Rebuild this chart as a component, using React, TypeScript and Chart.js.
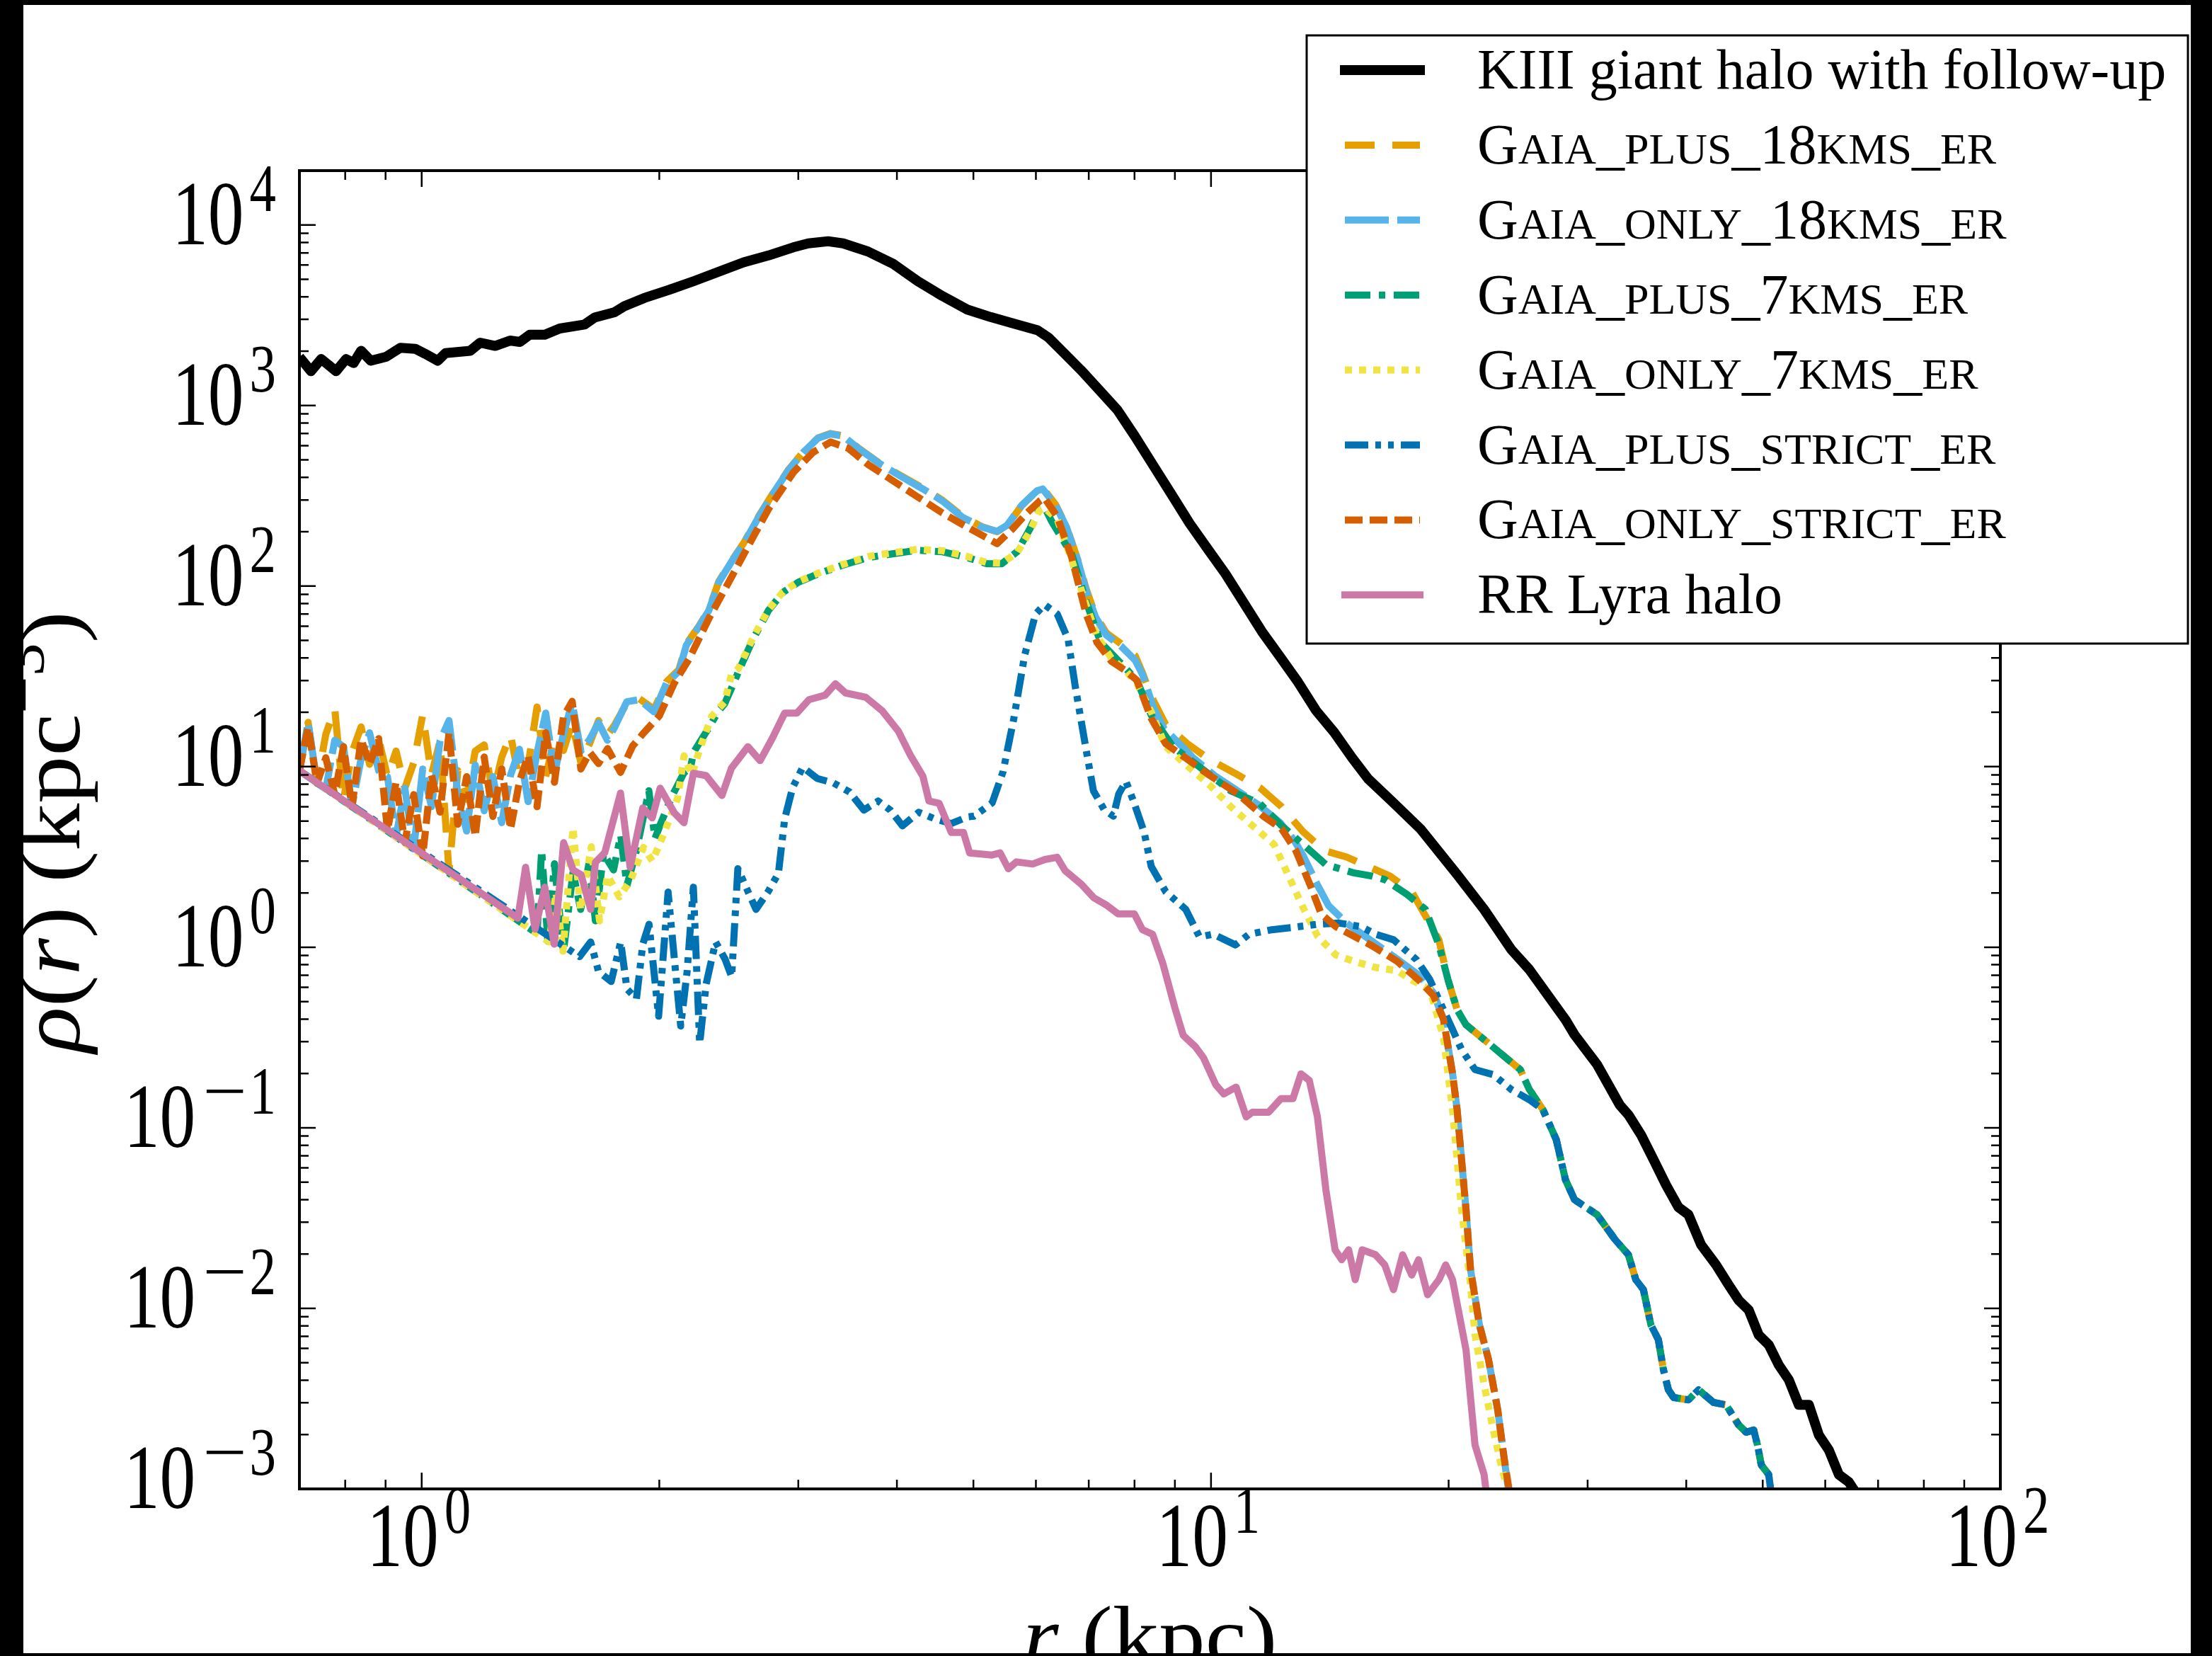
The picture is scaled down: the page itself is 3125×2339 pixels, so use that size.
import React, { useEffect, useRef } from 'react';
import { Chart, registerables } from 'chart.js';

Chart.register(...registerables);

// ---------------- data (r in kpc, rho in kpc^-3) ----------------
const kiiiR = [0.700, 0.724, 0.746, 0.779, 0.802, 0.820, 0.838, 0.862, 0.901, 0.940, 0.982, 1.011, 1.048, 1.072, 1.152, 1.186, 1.239, 1.294, 1.332, 1.371, 1.432, 1.496, 1.608, 1.656, 1.755, 1.806, 1.914, 2.058, 2.213, 2.379, 2.558, 2.750, 2.957, 3.089, 3.273, 3.419, 3.676, 3.952, 4.249, 4.569, 4.912, 5.258, 5.602, 6.031, 6.224, 6.492, 6.844, 7.216, 7.606, 8.018, 8.452, 8.911, 9.392, 9.900, 10.43, 11.00, 11.60, 12.23, 12.89, 13.58, 14.32, 15.09, 15.80, 17.03, 18.45, 20.50, 22.18, 24.01, 25.31, 28.12, 28.87, 30.84, 32.94, 33.79, 35.05, 36.36, 37.70, 39.10, 40.26, 41.77, 43.64, 45.26, 46.61, 47.99, 49.41, 50.88, 52.39, 53.95, 55.55, 57.20, 58.89, 60.64, 62.44, 64.29, 65.72];
const kiiiRho = [1860, 1550, 1810, 1550, 1810, 1720, 2010, 1770, 1860, 2090, 2060, 1930, 1770, 1950, 2010, 2230, 2140, 2290, 2250, 2470, 2470, 2670, 2810, 3070, 3290, 3550, 3940, 4370, 4890, 5510, 6210, 6780, 7520, 7910, 8130, 7910, 7130, 6110, 4890, 4040, 3400, 3090, 2860, 2610, 2380, 1980, 1570, 1220, 948, 671, 465, 322, 223, 161, 117, 81, 56, 40.6, 29.4, 20.5, 15.5, 11.2, 8.6, 6.3, 4.49, 2.53, 1.62, 0.971, 0.752, 0.397, 0.328, 0.224, 0.134, 0.118, 0.0916, 0.0666, 0.0484, 0.0363, 0.0330, 0.0225, 0.0174, 0.0135, 0.0111, 0.0098, 0.00713, 0.00628, 0.00486, 0.00402, 0.00292, 0.00292, 0.00199, 0.00164, 0.00120, 0.00109, 0.00094];

const plus18R = [0.700, 0.718, 0.737, 0.756, 0.776, 0.796, 0.816, 0.838, 0.859, 0.882, 0.905, 0.928, 0.952, 0.977, 1.003, 1.029, 1.055, 1.083, 1.111, 1.140, 1.169, 1.200, 1.231, 1.263, 1.296, 1.330, 1.364, 1.400, 1.436, 1.473, 1.512, 1.551, 1.591, 1.633, 1.675, 1.719, 1.754, 1.819, 1.886, 1.970, 2.042, 2.118, 2.165, 2.245, 2.311, 2.379, 2.467, 2.558, 2.672, 2.791, 2.914, 3.044, 3.179, 3.296, 3.419, 3.570, 3.784, 4.010, 4.311, 4.569, 4.840, 5.130, 5.358, 5.515, 5.760, 6.017, 6.120, 6.357, 6.561, 6.772, 6.955, 7.140, 7.369, 7.687, 8.018, 8.190, 8.400, 8.762, 9.335, 9.945, 10.82, 11.53, 12.28, 13.08, 13.94, 14.85, 15.82, 16.85, 17.96, 18.73, 19.44, 19.96, 20.50, 21.04, 22.18, 23.38, 24.65, 25.31];
const plus18Rho = [9.5, 17.6, 8.1, 15.1, 20.9, 6.5, 12.0, 16.6, 10.3, 14.3, 8.8, 12.2, 7.6, 10.5, 19.4, 9.0, 13.9, 2.6, 9.5, 6.6, 12.2, 13.2, 7.0, 11.3, 15.0, 8.3, 10.2, 21.4, 8.8, 14.3, 12.3, 17.5, 10.5, 13.5, 18.0, 15.0, 16.9, 22.5, 23.8, 20.8, 29.5, 34.5, 48, 60, 74, 106, 137, 173, 243, 330, 440, 553, 662, 700, 680, 585, 487, 418, 350, 299, 244, 213, 200, 216, 280, 336, 350, 282, 213, 142, 95, 69, 55, 48, 41, 33, 24.5, 17.1, 13.4, 11.0, 8.99, 7.65, 6.01, 4.36, 3.42, 3.16, 2.80, 2.48, 2.03, 1.47, 1.10, 0.662, 0.451, 0.372, 0.308, 0.254, 0.210, 0.163];

const only18R = [0.700, 0.718, 0.737, 0.756, 0.776, 0.796, 0.816, 0.838, 0.859, 0.882, 0.905, 0.928, 0.952, 0.977, 1.003, 1.029, 1.055, 1.083, 1.111, 1.140, 1.169, 1.200, 1.231, 1.263, 1.296, 1.330, 1.364, 1.400, 1.436, 1.473, 1.512, 1.551, 1.591, 1.633, 1.675, 1.719, 1.754, 1.819, 1.886, 1.970, 2.042, 2.118, 2.165, 2.245, 2.311, 2.379, 2.467, 2.558, 2.672, 2.791, 2.914, 3.044, 3.179, 3.296, 3.419, 3.570, 3.784, 4.010, 4.311, 4.569, 4.840, 5.130, 5.358, 5.515, 5.760, 6.017, 6.120, 6.357, 6.561, 6.772, 6.955, 7.140, 7.369, 7.687, 8.018, 8.190, 8.452, 8.723, 9.100, 9.490, 10.11, 10.77, 11.47, 12.23, 12.75, 13.09, 13.65, 14.09, 14.85, 15.99, 17.21, 18.34, 19.13, 19.70, 20.23, 20.50, 20.77, 21.04, 21.32, 21.88, 22.47, 23.08, 23.53, 23.85];
const only18Rho = [9.5, 17.6, 8.1, 7.5, 14.0, 12.9, 6.0, 11.1, 15.4, 9.5, 8.8, 4.1, 7.6, 3.5, 9.7, 6.0, 13.9, 18.0, 7.1, 4.4, 10.2, 5.7, 8.8, 4.9, 9.0, 12.5, 6.4, 11.9, 19.8, 9.2, 15.1, 22.7, 12.2, 14.2, 17.5, 14.0, 16.4, 22.9, 23.5, 20.1, 28.9, 33.8, 47.2, 59.6, 73.3, 105, 136, 172, 241, 329, 437, 551, 661, 696, 678, 581, 484, 415, 346, 296, 241, 212, 201, 217, 281, 337, 345, 280, 212, 141, 92.9, 67.3, 53.5, 46.6, 38.8, 32.3, 21.3, 16.2, 13.5, 11.2, 8.91, 7.42, 6.17, 4.90, 3.9, 3.2, 2.2, 1.7, 1.36, 1.08, 0.86, 0.70, 0.56, 0.40, 0.20, 0.126, 0.0665, 0.0352, 0.0164, 0.00811, 0.00519, 0.00274, 0.00145, 0.00094];

const plus7R = [0.700, 1.400, 1.419, 1.445, 1.473, 1.512, 1.555, 1.590, 1.630, 1.660, 1.700, 1.750, 1.787, 1.820, 1.870, 1.940, 1.975, 2.010, 2.080, 2.150, 2.190, 2.210, 2.310, 2.380, 2.420, 2.490, 2.520, 2.630, 2.750, 2.870, 3.000, 3.180, 3.420, 3.680, 3.950, 4.250, 4.570, 4.910, 5.200, 5.430, 5.680, 5.890, 6.060, 6.150, 6.280, 6.661, 6.947, 7.247, 7.720, 8.054, 8.400, 8.949, 9.737, 10.59, 11.53, 12.28, 13.08, 13.98, 15.17, 15.99, 16.60, 17.72, 18.69, 19.44, 19.96, 20.50, 21.04, 22.18, 23.38, 24.65, 25.31];
const plus7Rho = [9.5, 1.19, 3.45, 1.08, 2.9, 0.943, 2.6, 1.62, 2.95, 1.4, 3.3, 2.68, 4.17, 2.2, 3.4, 7.36, 4.0, 4.89, 7.0, 9.27, 9.80, 12.0, 16.4, 20.5, 22.3, 29.6, 33.7, 51.0, 73.3, 92.5, 105, 117, 131, 144, 151, 158, 155, 144, 133, 133, 155, 206, 267, 275, 229, 150, 82.2, 48.7, 36.7, 30.1, 19.3, 12.9, 9.75, 7.35, 6.25, 4.72, 3.71, 2.87, 2.58, 2.48, 2.37, 1.96, 1.62, 1.03, 0.662, 0.451, 0.372, 0.308, 0.254, 0.210, 0.163];

const only7R = [0.700, 1.450, 1.480, 1.510, 1.555, 1.590, 1.640, 1.680, 1.720, 1.780, 1.840, 1.910, 1.960, 2.020, 2.110, 2.150, 2.200, 2.250, 2.330, 2.420, 2.470, 2.520, 2.630, 2.750, 2.870, 3.000, 3.180, 3.420, 3.680, 3.950, 4.250, 4.570, 4.910, 5.200, 5.430, 5.680, 5.890, 6.060, 6.150, 6.385, 6.661, 6.947, 7.171, 7.480, 7.802, 8.054, 8.400, 8.762, 9.335, 9.945, 10.59, 11.28, 12.02, 12.54, 13.08, 13.65, 14.39, 15.17, 16.16, 17.21, 17.96, 18.93, 19.70, 20.23, 20.77, 21.32, 21.60, 22.18, 22.78, 23.38, 23.85];
const only7Rho = [9.5, 1.07, 2.0, 0.95, 4.59, 1.6, 3.6, 1.4, 2.5, 1.9, 2.36, 3.57, 3.0, 4.1, 6.70, 11.5, 9.0, 12.5, 19.0, 22.8, 32.6, 35, 52, 74, 93, 106, 118, 132, 146, 153, 160, 157, 146, 135, 134, 153, 200, 262, 272, 234, 139, 78.9, 52.7, 39.8, 33.9, 28.9, 20.1, 12.9, 10.1, 7.96, 6.01, 4.72, 3.71, 2.48, 1.66, 1.15, 0.906, 0.836, 0.772, 0.741, 0.657, 0.583, 0.318, 0.126, 0.0352, 0.0134, 0.00713, 0.00378, 0.00212, 0.00128, 0.00094];

const plusStrictR = [0.700, 1.585, 1.637, 1.675, 1.738, 1.787, 1.820, 1.871, 1.906, 1.941, 1.996, 2.052, 2.090, 2.129, 2.169, 2.209, 2.250, 2.293, 2.357, 2.423, 2.470, 2.515, 2.590, 2.652, 2.749, 2.831, 2.883, 2.951, 3.040, 3.169, 3.323, 3.484, 3.632, 3.787, 3.924, 4.065, 4.263, 4.471, 4.688, 4.915, 5.010, 5.281, 5.451, 5.626, 5.807, 5.994, 6.153, 6.385, 6.591, 6.731, 6.947, 7.096, 7.324, 7.520, 7.640, 7.802, 7.969, 8.225, 8.400, 8.762, 9.290, 9.670, 10.06, 10.74, 11.17, 11.94, 12.75, 13.62, 14.54, 15.49, 16.16, 17.03, 18.20, 18.93, 19.70, 20.23, 20.77, 21.60, 22.78, 24.01, 25.31];
const plusStrictRho = [9.5, 0.887, 1.07, 0.733, 0.646, 1.07, 0.587, 0.518, 1.04, 1.34, 0.415, 2.02, 0.859, 0.366, 0.733, 2.15, 0.293, 0.626, 1.07, 0.859, 0.686, 2.72, 2.04, 1.62, 2.04, 2.57, 5.13, 7.67, 9.94, 8.61, 8.13, 7.24, 5.75, 6.45, 5.75, 4.70, 5.59, 5.13, 4.84, 5.27, 5.32, 6.3, 9.36, 18.5, 41.5, 70.0, 79, 70.0, 50.7, 27.7, 12.4, 7.35, 5.77, 5.32, 7.06, 8.29, 6.51, 4.36, 2.80, 2.03, 1.62, 1.14, 1.18, 1.03, 1.18, 1.25, 1.29, 1.34, 1.36, 1.30, 1.18, 1.10, 0.855, 0.662, 0.451, 0.350, 0.271, 0.210, 0.197, 0.163, 0.143];

// outer tail shared (overlapping) by Gaia_plus_18, Gaia_plus_7 and Gaia_plus_strict
const plusTailR = [26.33, 27.38, 28.12, 28.87, 30.84, 32.51, 33.79, 34.53, 35.30, 36.08, 36.88, 37.43, 37.97, 38.54, 40.26, 41.46, 43.32, 44.93, 46.61, 47.64, 48.70, 49.24, 49.78, 50.88, 51.25];
const plusTailRho = [0.126, 0.0859, 0.0516, 0.0400, 0.0330, 0.0240, 0.0198, 0.0144, 0.0127, 0.0081, 0.0067, 0.00456, 0.00354, 0.00321, 0.00311, 0.00354, 0.00301, 0.00292, 0.00226, 0.00206, 0.00212, 0.00175, 0.00136, 0.00120, 0.00094];

const onlyStrictR = [0.700, 0.718, 0.737, 0.756, 0.776, 0.796, 0.816, 0.838, 0.859, 0.882, 0.905, 0.928, 0.952, 0.977, 1.003, 1.029, 1.055, 1.083, 1.111, 1.140, 1.169, 1.200, 1.231, 1.263, 1.296, 1.330, 1.364, 1.400, 1.436, 1.473, 1.512, 1.551, 1.591, 1.633, 1.675, 1.720, 1.786, 1.850, 1.914, 2.000, 2.088, 2.181, 2.311, 2.449, 2.595, 2.750, 2.957, 3.133, 3.296, 3.468, 3.676, 3.952, 4.249, 4.569, 4.912, 5.130, 5.358, 5.596, 5.845, 6.060, 6.150, 6.385, 6.661, 6.947, 7.171, 7.480, 7.802, 8.054, 8.400, 8.762, 9.335, 9.945, 10.82, 11.65, 12.28, 12.81, 13.36, 13.79, 14.39, 15.17, 15.99, 17.21, 18.34, 19.13, 19.70, 20.23, 20.50, 20.77, 21.04, 21.32, 21.88, 22.47, 23.08, 23.53, 23.90];
const onlyStrictRho = [9.5, 16.5, 8.1, 11.2, 7.0, 12.9, 6.0, 14.2, 10.3, 14.3, 4.4, 8.2, 3.8, 7.0, 3.2, 9.0, 5.6, 15.4, 4.8, 8.8, 4.1, 11.3, 5.3, 9.7, 4.5, 8.3, 11.5, 6.0, 15.4, 8.2, 18.9, 23.0, 9.7, 12.0, 10.4, 12.6, 9.3, 13.0, 15.5, 19.1, 28.9, 39.4, 66.1, 105, 168, 267, 426, 551, 628, 581, 472, 384, 312, 254, 212, 191, 172, 206, 254, 295, 308, 243, 144, 70.0, 48.7, 38.3, 33.9, 30.1, 18.5, 13.4, 11.0, 8.99, 7.06, 5.32, 4.54, 3.42, 2.20, 1.53, 1.30, 1.15, 1.02, 0.836, 0.657, 0.54, 0.40, 0.20, 0.126, 0.0665, 0.0352, 0.0164, 0.00811, 0.00519, 0.00274, 0.00145, 0.00094];

const rrLyraR = [0.700, 1.324, 1.354, 1.392, 1.432, 1.472, 1.513, 1.555, 1.592, 1.637, 1.660, 1.706, 1.786, 1.837, 1.906, 1.959, 2.005, 2.090, 2.149, 2.209, 2.293, 2.401, 2.468, 2.590, 2.684, 2.782, 2.883, 2.988, 3.095, 3.245, 3.343, 3.443, 3.654, 3.831, 4.018, 4.164, 4.315, 4.392, 4.524, 4.688, 4.857, 4.945, 5.279, 5.406, 5.536, 5.669, 5.943, 6.159, 6.383, 6.536, 6.853, 7.101, 7.358, 7.625, 7.996, 8.188, 8.433, 8.687, 9.003, 9.220, 9.555, 9.784, 10.14, 10.38, 10.76, 11.08, 11.28, 11.83, 12.26, 12.70, 13.00, 13.32, 13.64, 13.98, 14.36, 14.64, 14.94, 15.23, 15.54, 16.16, 16.60, 17.03, 17.49, 17.96, 18.32, 18.81, 19.44, 19.83, 20.23, 21.04, 21.60, 22.18, 22.33];
const rrLyraRho = [9.5, 1.45, 2.77, 1.26, 2.15, 1.04, 3.79, 2.68, 2.52, 1.62, 2.95, 3.34, 7.14, 2.77, 5.91, 5.20, 7.60, 5.54, 4.89, 9.20, 8.92, 6.92, 9.80, 12.9, 10.8, 14.4, 19.8, 19.8, 23.5, 24.9, 28.8, 25.6, 24.2, 20.4, 15.7, 11.5, 8.85, 6.45, 6.27, 4.32, 4.32, 3.33, 3.24, 3.33, 2.72, 2.97, 2.89, 3.06, 3.15, 2.65, 2.23, 1.88, 1.72, 1.53, 1.53, 1.25, 1.18, 0.815, 0.459, 0.325, 0.281, 0.244, 0.173, 0.154, 0.168, 0.115, 0.122, 0.122, 0.145, 0.145, 0.199, 0.183, 0.115, 0.0454, 0.0211, 0.0186, 0.0211, 0.0144, 0.0211, 0.0198, 0.0174, 0.0127, 0.0198, 0.0153, 0.0186, 0.0119, 0.0144, 0.0174, 0.0144, 0.00589, 0.00175, 0.00120, 0.00094];

const seriesLabels = [
  'KIII giant halo with follow-up',
  'Gaia_plus_18kms_er',
  'Gaia_only_18kms_er',
  'Gaia_plus_7kms_er',
  'Gaia_only_7kms_er',
  'Gaia_plus_strict_er',
  'Gaia_only_strict_er',
  'RR Lyra halo',
];
const smallCapsLabel = [false, true, true, true, true, true, true, false];

const xMajorTicks = [1, 10, 100];
const xTickExponents = ['0', '1', '2'];
const yMajorTicks = [1e-3, 1e-2, 1e-1, 1, 10, 100, 1000, 10000];
const yTickExponents = ['−3', '−2', '−1', '0', '1', '2', '3', '4'];

// ---------------- layout / style ----------------
const CANVAS_W = 3125;
const CANVAS_H = 2339;
const AREA = { left: 423, top: 241, right: 2826, bottom: 2103 };
const PAPER = { left: 33, top: 7, right: 3095, bottom: 2335 };
const SERIF = '"Liberation Serif", "Times New Roman", "DejaVu Serif", serif';

const styles = [
  { color: '#000000', width: 14, dash: [] as number[] },
  { color: '#E69F00', width: 10, dash: [42, 25] },
  { color: '#56B4E9', width: 10, dash: [62, 12] },
  { color: '#009E73', width: 10, dash: [36, 12, 9, 12] },
  { color: '#F0E442', width: 10, dash: [10, 10] },
  { color: '#0072B2', width: 10, dash: [33, 10, 8, 10, 8, 10] },
  { color: '#D55E00', width: 10, dash: [25, 10] },
  { color: '#CC79A7', width: 10, dash: [] as number[] },
];

interface Run { t: string; size: number; italic?: boolean; rise?: number; sx?: number; gap?: number; }

function setFont(ctx: CanvasRenderingContext2D, r: Run) {
  ctx.font = `${r.italic ? 'italic ' : ''}${r.size}px ${SERIF}`;
}
function runsWidth(ctx: CanvasRenderingContext2D, runs: Run[], sx: number) {
  let w = 0;
  for (const r of runs) {
    setFont(ctx, r);
    w += (r.gap || 0) + ctx.measureText(r.t).width * (r.sx ?? sx);
  }
  return w;
}
function drawRuns(ctx: CanvasRenderingContext2D, runs: Run[], x: number, y: number, sx: number) {
  let cx = x;
  for (const r of runs) {
    cx += r.gap || 0;
    setFont(ctx, r);
    const k = r.sx ?? sx;
    ctx.save();
    ctx.translate(cx, y - (r.rise || 0));
    ctx.scale(k, 1);
    ctx.fillText(r.t, 0, 0);
    ctx.restore();
    cx += ctx.measureText(r.t).width * k;
  }
}
function smallCaps(text: string, size: number): Run[] {
  const runs: Run[] = [];
  for (const ch of text) {
    const lower = ch >= 'a' && ch <= 'z';
    const s = lower ? Math.round(size * 0.78) : size;
    const t = lower ? ch.toUpperCase() : ch;
    const last = runs[runs.length - 1];
    if (last && last.size === s) last.t += t;
    else runs.push({ t, size: s });
  }
  return runs;
}
function powerRuns(exp: string): Run[] {
  const runs: Run[] = [{ t: '10', size: 130 }];
  if (exp.startsWith('−')) {
    runs.push({ t: '−', size: 96, rise: 47, sx: 1.15, gap: 10 });
    runs.push({ t: exp.slice(1), size: 96, rise: 47, gap: 4 });
  } else {
    runs.push({ t: exp, size: 96, rise: 47, gap: 8 });
  }
  return runs;
}

const decorPlugin = {
  id: 'mplDecor',
  beforeDraw(chart: any) {
    const ctx: CanvasRenderingContext2D = chart.ctx;
    ctx.save();
    ctx.fillStyle = '#000';
    ctx.fillRect(0, 0, CANVAS_W, CANVAS_H);
    ctx.fillStyle = '#fff';
    ctx.fillRect(PAPER.left, PAPER.top, PAPER.right - PAPER.left, PAPER.bottom - PAPER.top);
    ctx.restore();
  },
  afterDraw(chart: any) {
    const ctx: CanvasRenderingContext2D = chart.ctx;
    const xs = chart.scales.x;
    const ys = chart.scales.y;
    const a = chart.chartArea;
    ctx.save();
    ctx.textBaseline = 'alphabetic';
    ctx.textAlign = 'left';
    ctx.fillStyle = '#000';
    ctx.strokeStyle = '#000';

    // ticks (inward, all four sides)
    ctx.lineWidth = 2.5;
    ctx.lineCap = 'butt';
    ctx.setLineDash([]);
    for (let e = -1; e <= 2; e++) {
      for (let m = 1; m <= 9; m++) {
        const v = m * Math.pow(10, e);
        if (v < xs.min * 0.999 || v > xs.max * 1.001) continue;
        const len = m === 1 ? 23 : 13;
        const px = xs.getPixelForValue(v);
        ctx.beginPath();
        ctx.moveTo(px, a.bottom); ctx.lineTo(px, a.bottom - len);
        ctx.moveTo(px, a.top); ctx.lineTo(px, a.top + len);
        ctx.stroke();
      }
    }
    for (let e = -3; e <= 4; e++) {
      for (let m = 1; m <= 9; m++) {
        const v = m * Math.pow(10, e);
        if (v < ys.min * 0.999 || v > ys.max * 1.001) continue;
        const len = m === 1 ? 23 : 13;
        const py = ys.getPixelForValue(v);
        ctx.beginPath();
        ctx.moveTo(a.left, py); ctx.lineTo(a.left + len, py);
        ctx.moveTo(a.right, py); ctx.lineTo(a.right - len, py);
        ctx.stroke();
      }
    }
    // frame
    ctx.lineWidth = 4;
    ctx.strokeRect(a.left, a.top, a.right - a.left, a.bottom - a.top);

    // tick labels
    const TSX = 0.78;
    xMajorTicks.forEach((v, i) => {
      const runs = powerRuns(xTickExponents[i]);
      const w = runsWidth(ctx, runs, TSX);
      const px = xs.getPixelForValue(v);
      drawRuns(ctx, runs, px - 4 - w / 2, a.bottom + 109, TSX);
    });
    yMajorTicks.forEach((v, i) => {
      const runs = powerRuns(yTickExponents[i]);
      const w = runsWidth(ctx, runs, TSX);
      const py = ys.getPixelForValue(v);
      drawRuns(ctx, runs, 390 - w, py + 27, TSX);
    });

    // axis titles
    const xl: Run[] = [{ t: 'r', size: 120, italic: true }, { t: ' (kpc)', size: 120 }];
    const xlw = runsWidth(ctx, xl, 1.09);
    drawRuns(ctx, xl, (a.left + a.right) / 2 - xlw / 2, 2352, 1.09);

    const yl: Run[] = [
      { t: 'ρ', size: 120, italic: true },
      { t: '(', size: 120 },
      { t: 'r', size: 120, italic: true },
      { t: ') (kpc', size: 120 },
      { t: '−3', size: 84, rise: 50 },
      { t: ')', size: 120 },
    ];
    const ylw = runsWidth(ctx, yl, 1.12);
    ctx.save();
    ctx.translate(112, (a.top + a.bottom) / 2 + 3);
    ctx.rotate(-Math.PI / 2);
    drawRuns(ctx, yl, -ylw / 2, 0, 1.12);
    ctx.restore();

    // legend
    const LB = { x: 1846, y: 50, w: 1245, h: 859 };
    ctx.fillStyle = '#fff';
    ctx.fillRect(LB.x, LB.y, LB.w, LB.h);
    ctx.lineWidth = 3;
    ctx.strokeStyle = '#000';
    ctx.strokeRect(LB.x, LB.y, LB.w, LB.h);
    chart.data.datasets.forEach((ds: any, i: number) => {
      const cy = 99 + i * 105.9;
      ctx.save();
      ctx.strokeStyle = ds.borderColor;
      ctx.lineWidth = ds.borderWidth;
      const dash = ds.borderDash || [];
      ctx.setLineDash(dash);
      ctx.lineCap = dash.length ? 'butt' : 'square';
      ctx.beginPath();
      ctx.moveTo(1900, cy);
      ctx.lineTo(2006, cy);
      ctx.stroke();
      ctx.restore();
      ctx.fillStyle = '#000';
      const runs = smallCapsLabel[i] ? smallCaps(ds.label, 80) : [{ t: ds.label, size: 80 }];
      drawRuns(ctx, runs, 2087, cy + 26, 1);
    });

    // dark surround of the scanned figure
    ctx.fillStyle = '#000';
    ctx.fillRect(0, 0, CANVAS_W, PAPER.top);
    ctx.fillRect(0, 0, PAPER.left, CANVAS_H);
    ctx.fillRect(PAPER.right, 0, CANVAS_W - PAPER.right, CANVAS_H);
    ctx.fillRect(0, PAPER.bottom, CANVAS_W, CANVAS_H - PAPER.bottom);
    ctx.restore();
  },
};

function pairs(r: number[], rho: number[]) {
  const n = Math.min(r.length, rho.length);
  const out: { x: number; y: number }[] = [];
  for (let i = 0; i < n; i++) out.push({ x: r[i], y: rho[i] });
  return out;
}

export default function App() {
  const canvasRef = useRef<HTMLCanvasElement | null>(null);

  useEffect(() => {
    document.body.style.margin = '0';
    document.body.style.overflow = 'hidden';
    const canvas = canvasRef.current;
    if (!canvas) return;

    const seriesData = [
      pairs(kiiiR, kiiiRho),
      pairs(plus18R.concat(plusTailR), plus18Rho.concat(plusTailRho)),
      pairs(only18R, only18Rho),
      pairs(plus7R.concat(plusTailR), plus7Rho.concat(plusTailRho)),
      pairs(only7R, only7Rho),
      pairs(plusStrictR.concat(plusTailR), plusStrictRho.concat(plusTailRho)),
      pairs(onlyStrictR, onlyStrictRho),
      pairs(rrLyraR, rrLyraRho),
    ];

    const datasets = seriesData.map((data, i) => ({
      label: seriesLabels[i],
      data,
      borderColor: styles[i].color,
      backgroundColor: styles[i].color,
      borderWidth: styles[i].width,
      borderDash: styles[i].dash,
      borderCapStyle: 'butt' as const,
      borderJoinStyle: 'round' as const,
      pointRadius: 0,
      pointHoverRadius: 0,
      tension: 0,
      fill: false,
      order: seriesData.length - i,
    }));

    const chart = new Chart(canvas, {
      type: 'line',
      data: { datasets },
      options: {
        responsive: false,
        maintainAspectRatio: false,
        devicePixelRatio: 1,
        animation: false,
        events: [],
        layout: {
          padding: {
            left: AREA.left,
            top: AREA.top,
            right: CANVAS_W - AREA.right,
            bottom: CANVAS_H - AREA.bottom,
          },
        },
        scales: {
          x: { type: 'logarithmic', min: 0.7, max: 100, display: false },
          y: { type: 'logarithmic', min: 1e-3, max: 2e4, display: false },
        },
        plugins: {
          legend: { display: false },
          tooltip: { enabled: false },
        },
      },
      plugins: [decorPlugin],
    });

    return () => chart.destroy();
  }, []);

  return (
    <div style={{ position: 'absolute', left: 0, top: 0, width: CANVAS_W, height: CANVAS_H }}>
      <canvas ref={canvasRef} width={CANVAS_W} height={CANVAS_H} style={{ display: 'block' }} />
    </div>
  );
}
